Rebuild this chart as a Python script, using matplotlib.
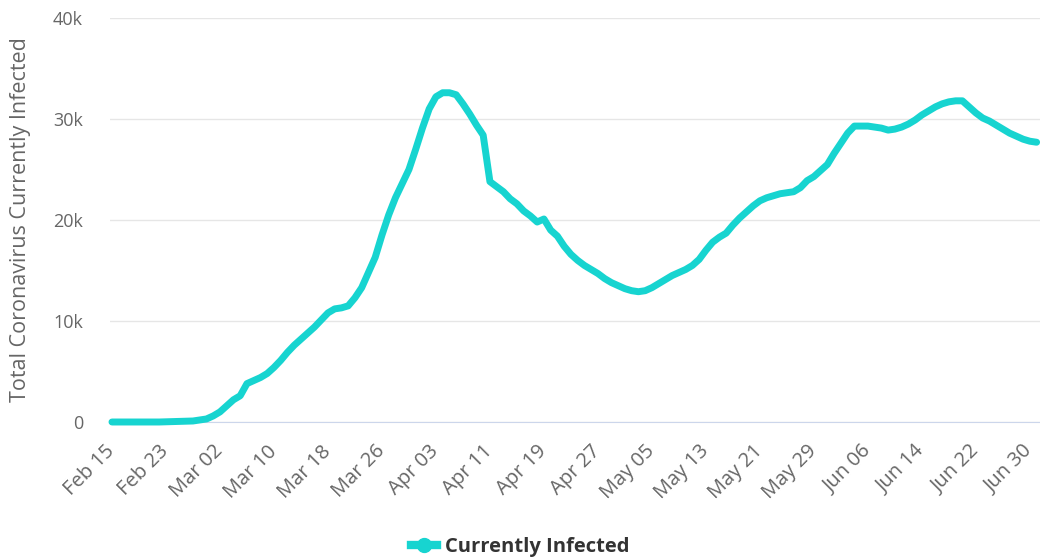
import numpy as np
import pandas as pd
import matplotlib
matplotlib.use("Agg")
import matplotlib.pyplot as plt
from matplotlib.lines import Line2D

# Daily values (thousands), starting Feb 15
start_date = "2020-02-15"
infected_k = [
    0.0, 0.0, 0.0, 0.0, 0.0, 0.0, 0.0, 0.0, 0.02, 0.03, 0.05, 0.07, 0.1, 0.2,
    0.3, 0.6, 1.0, 1.6, 2.2, 2.6, 3.8, 4.1, 4.4, 4.8, 5.4, 6.1, 6.9, 7.6, 8.2,
    8.8, 9.4, 10.1, 10.8, 11.2, 11.3, 11.5, 12.3, 13.3, 14.8, 16.3, 18.5, 20.5,
    22.2, 23.6, 25.0, 27.0, 29.1, 31.0, 32.2, 32.6, 32.6, 32.4, 31.5, 30.5,
    29.4, 28.4, 23.8, 23.3, 22.8, 22.1, 21.6, 20.9, 20.4, 19.8, 20.1, 19.0,
    18.4, 17.4, 16.6, 16.0, 15.5, 15.1, 14.7, 14.2, 13.8, 13.5, 13.2, 13.0,
    12.9, 13.0, 13.3, 13.7, 14.1, 14.5, 14.8, 15.1, 15.5, 16.1, 17.0, 17.8,
    18.3, 18.7, 19.5, 20.2, 20.8, 21.4, 21.9, 22.2, 22.4, 22.6, 22.7, 22.8,
    23.2, 23.9, 24.3, 24.9, 25.5, 26.6, 27.6, 28.6, 29.3, 29.3, 29.3, 29.2,
    29.1, 28.9, 29.0, 29.2, 29.5, 29.9, 30.4, 30.8, 31.2, 31.5, 31.7, 31.8,
    31.8, 31.2, 30.6, 30.1, 29.8, 29.4, 29.0, 28.6, 28.3, 28.0, 27.8, 27.7,
]
series_name = "Currently Infected"
y_label = "Total Coronavirus Currently Infected"
y_ticks = [0, 10000, 20000, 30000, 40000]
y_tick_labels = ["0", "10k", "20k", "30k", "40k"]

dates = pd.date_range(start_date, periods=len(infected_k), freq="D")
values = np.array(infected_k) * 1000

line_color = "#17d4d0"
plt.rcParams["font.family"] = ["Open Sans", "DejaVu Sans"]

fig = plt.figure(figsize=(10.40, 5.59), dpi=100)
ax = fig.add_axes([110 / 1040, 1 - 422 / 559, 930 / 1040, (422 - 18) / 559])

ax.plot(dates, values, color=line_color, lw=5, solid_joinstyle="round",
        solid_capstyle="round", zorder=3, clip_on=False)

ax.set_ylim(0, 40000)
ax.set_xlim(dates[0] - pd.Timedelta(hours=7), dates[0] + pd.Timedelta(days=137.5))
ax.set_yticks(y_ticks)
ax.set_yticklabels(y_tick_labels)

tick_dates = dates[::8]
ax.set_xticks(tick_dates)
ax.set_xticklabels([d.strftime("%b %d") for d in tick_dates], rotation=45,
                   ha="right", va="center", rotation_mode="anchor", fontsize=14.5)

ax.grid(axis="y", color="#e6e6e6", lw=1)
ax.set_axisbelow(True)
for side in ["top", "right", "left"]:
    ax.spines[side].set_visible(False)
ax.spines["bottom"].set_color("#ccd6eb")
ax.tick_params(axis="both", length=0, colors="#666666")
ax.tick_params(axis="y", pad=19.5, labelsize=13)
ax.tick_params(axis="x", pad=19)
ax.set_ylabel(y_label, color="#666666", fontsize=15.5, labelpad=16)

handle = Line2D([], [], color=line_color, lw=6, marker="o", markersize=10)
fig.legend([handle], [series_name], loc="center", bbox_to_anchor=(0.5, 1 - 547 / 559),
           frameon=False, prop={"weight": "bold", "size": 14.5}, labelcolor="#333333",
           handlelength=1.3, handletextpad=0.4)

fig.savefig("out.png", dpi=100)
